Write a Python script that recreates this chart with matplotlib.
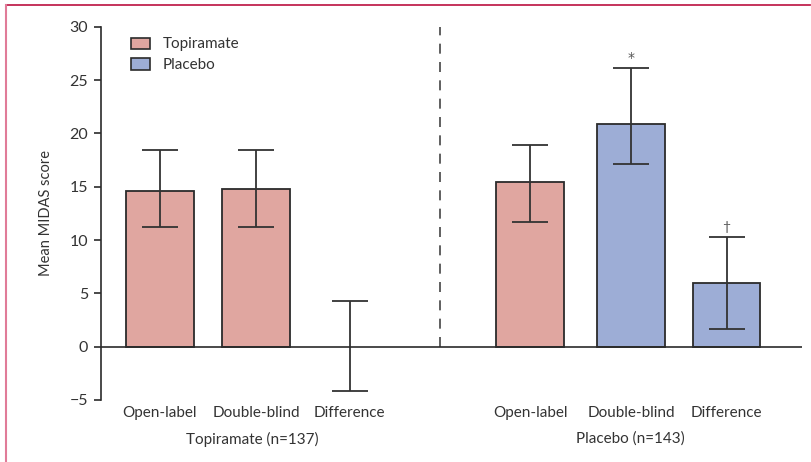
import matplotlib
matplotlib.use('Agg')
import matplotlib.pyplot as plt
from matplotlib.lines import Line2D
from matplotlib.patches import Patch

plt.rc('font', family='Lato')

# Mean MIDAS scores with error bar limits
categories = ['Open-label', 'Double-blind', 'Difference',
              'Open-label', 'Double-blind', 'Difference']
groups = ['Topiramate (n=137)', 'Placebo (n=143)']
means = [14.6, 14.8, 0.0, 15.4, 20.9, 6.0]
err_low = [11.2, 11.2, -4.2, 11.7, 17.1, 1.7]
err_high = [18.4, 18.4, 4.3, 18.9, 26.1, 10.3]
treatments = ['Topiramate', 'Topiramate', None, 'Topiramate', 'Placebo', 'Placebo']
markers = ['', '', '', '', '*', '\u2020']

colours = {'Topiramate': '#e0a6a0', 'Placebo': '#9dadd6'}
edge = '#2b2b2b'
text_col = '#333333'

xpos = [0, 1.005, 1.985, 3.875, 4.93, 5.93]

fig = plt.figure(figsize=(8.11, 4.62), dpi=100)
ax = fig.add_axes([0.1242, 0.1342, 0.8647, 0.808])

# Bars (the topiramate difference has no bar, only its interval)
for x, m, t in zip(xpos, means, treatments):
    if t is None:
        continue
    ax.bar(x, m, width=0.71, color=colours[t], edgecolor=edge, linewidth=1.3, zorder=2)

# Error bars
for x, m, lo, hi in zip(xpos, means, err_low, err_high):
    ax.errorbar(x, m, yerr=[[m - lo], [hi - m]], fmt='none', ecolor='#333333',
                elinewidth=1.3, capsize=13.3, capthick=1.3, zorder=3)

# Significance markers above the error bars
for x, hi, s in zip(xpos, err_high, markers):
    if s == '*':
        ax.text(x, hi + 0.35, s, ha='center', va='bottom', fontsize=10,
                color='#555555', family='DejaVu Sans')
    elif s:
        ax.text(x, hi + 0.35, s, ha='center', va='bottom', fontsize=10, color='#555555')

ax.axhline(0, color=edge, linewidth=1.2, zorder=4)
ax.axvline(2.93, ymin=5 / 35, ymax=1, color='#444444', linewidth=1.2,
           linestyle=(0, (6, 5)), zorder=1)

ax.set_xlim(-0.62, 6.72)
ax.set_ylim(-5, 30)
ax.set_yticks(range(-5, 31, 5))
ax.set_yticklabels(['\u22125'] + [str(v) for v in range(0, 31, 5)])
ax.set_xticks([])
for side in ['top', 'right', 'bottom']:
    ax.spines[side].set_visible(False)
ax.spines['left'].set_color(edge)
ax.spines['left'].set_linewidth(1.2)
ax.tick_params(axis='y', length=5, width=1.2, color=edge, labelsize=11.5,
               labelcolor=text_col, pad=4)
ax.set_ylabel('Mean MIDAS score', fontsize=10.5, color=text_col, labelpad=12)

# Category and group labels under the axis
for x, c in zip(xpos, categories):
    ax.text(x, -5.55, c, ha='center', va='top', fontsize=11, color=text_col)
ax.text(0.97, -7.95, groups[0], ha='center', va='top', fontsize=11, color=text_col)
ax.text(4.92, -7.95, groups[1], ha='center', va='top', fontsize=11, color=text_col)

handles = [Patch(facecolor=colours['Topiramate'], edgecolor=edge, linewidth=1.2, label='Topiramate'),
           Patch(facecolor=colours['Placebo'], edgecolor=edge, linewidth=1.2, label='Placebo')]
ax.legend(handles=handles, loc='upper left', bbox_to_anchor=(0.024, 1.008), frameon=False,
          fontsize=11, handlelength=1.2, handleheight=0.75, labelspacing=0.45,
          handletextpad=0.85, labelcolor=text_col)

# Page frame lines
fig.add_artist(Line2D([0.0068, 0.999], [0.9892, 0.9892], color='#c0234e', linewidth=1.3))
fig.add_artist(Line2D([0.0068, 0.0068], [0.0, 0.9892], color='#e07b98', linewidth=1.5))

plt.savefig('out.png', dpi=100)
plt.close()
